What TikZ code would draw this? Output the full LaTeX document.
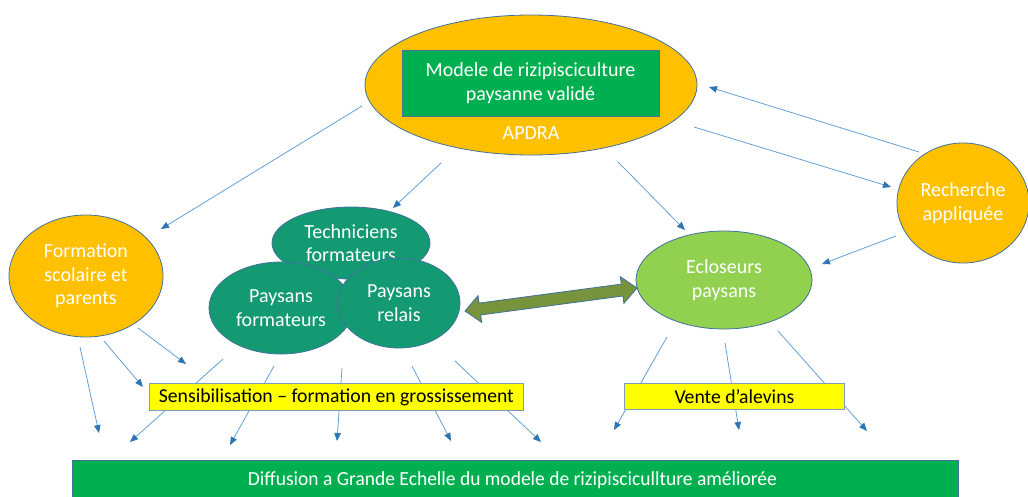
\documentclass[tikz,border=0pt]{standalone}
\usepackage{fontspec}
\setmainfont{Carlito}
\usetikzlibrary{shapes.geometric,arrows.meta}
\definecolor{orangeF}{HTML}{FFC000}
\definecolor{greenF}{HTML}{00B050}
\definecolor{tealF}{HTML}{139A72}
\definecolor{limeF}{HTML}{92D050}
\definecolor{oliveF}{HTML}{77933C}
\definecolor{yellowF}{HTML}{FFFF00}
\definecolor{edgeC}{HTML}{41719C}
\definecolor{arrowC}{HTML}{5B9BD5}
\definecolor{headC}{HTML}{2E75B6}
\tikzset{
  txt/.style={font=\fontsize{20}{23.5}\selectfont, text=white, align=center},
  oval/.style={ellipse, draw=edgeC, line width=0.8pt, inner sep=0pt, txt},
  ybox/.style={draw=edgeC!70, line width=0.8pt, fill=yellowF, inner sep=0pt, anchor=north west,
    font=\fontsize{19.7}{23.5}\selectfont, text=black},
  flow/.style={draw=arrowC, line width=0.75pt, -{Triangle[length=8pt,width=6.5pt,color=headC]}},
}
\begin{document}
\begin{tikzpicture}[x=1pt,y=-1pt]
\useasboundingbox (0,0) rectangle (1028,496);
% ---- arrow end points
\coordinate (a1s) at (362,106); \coordinate (a1e) at (161,229);
\coordinate (a2s) at (441,163); \coordinate (a2e) at (393,208);
\coordinate (a3s) at (618,162); \coordinate (a3e) at (685,230);
\coordinate (a4s) at (694,127); \coordinate (a4e) at (891,187);
\coordinate (a5s) at (919,152); \coordinate (a5e) at (709,87);
\coordinate (a6s) at (896,236); \coordinate (a6e) at (822,264);
\coordinate (a7s) at (80,347);  \coordinate (a7e) at (99,433);
\coordinate (a8s) at (104,341); \coordinate (a8e) at (143,387);
\coordinate (a9s) at (138,328); \coordinate (a9e) at (186,364);
\coordinate (b1s) at (223,359); \coordinate (b1e) at (130,442);
\coordinate (b2s) at (274,366); \coordinate (b2e) at (230,445);
\coordinate (b3s) at (342,368); \coordinate (b3e) at (337,441);
\coordinate (b4s) at (412,366); \coordinate (b4e) at (451,441);
\coordinate (b5s) at (455,361); \coordinate (b5e) at (541,442);
\coordinate (c1s) at (667,337); \coordinate (c1e) at (614,430);
\coordinate (c2s) at (725,343); \coordinate (c2e) at (739,430);
\coordinate (c3s) at (778,331); \coordinate (c3e) at (867,431);
\foreach \a in {a1,a2,a3,a4,a5,a6,a7,a8,a9,b1,b2,b3,b4,b5,c1,c2,c3}
  \draw[flow] (\a s) -- (\a e);
% ---- APDRA
\node[oval, fill=orangeF, minimum width=332pt, minimum height=140pt] (apdra) at (531,85) {};
\node[draw=edgeC, line width=0.8pt, fill=greenF, minimum width=257pt, minimum height=66pt, inner sep=0pt, txt]
  (modele) at (530.5,83) {Modele de rizipisciculture\\paysanne validé};
\node[txt] (apdralbl) at (531,133) {APDRA};
% ---- Recherche
\node[oval, fill=orangeF, minimum width=132pt, minimum height=120pt] (rech) at (963,203) {Recherche\\appliquée};
% ---- Formation
\node[oval, fill=orangeF, minimum width=154pt, minimum height=122pt] (form) at (86,276) {Formation\\scolaire et\\parents};
% ---- green cluster
\node[oval, fill=tealF, minimum width=158pt, minimum height=72pt] (tech) at (351,243) {Techniciens\\formateurs};
\node[oval, fill=tealF, minimum width=144pt, minimum height=92pt] (pform) at (281,308) {Paysans\\formateurs};
\node[oval, fill=tealF, minimum width=122pt, minimum height=90pt] (prel) at (399,303) {Paysans\\relais};
% ---- Ecloseurs
\node[oval, fill=limeF, minimum width=176pt, minimum height=98pt] (eclo) at (724,280) {Ecloseurs\\paysans};
% ---- double arrow
\coordinate (dA) at (465,311);
\coordinate (dB) at (637,288);
\begin{scope}[shift={(dA)}, rotate=7.6]
  \fill[oliveF, draw=edgeC, line width=0.8pt]
    (0,0) -- (15,-13.5) -- (15,-6) -- (158.5,-6) -- (158.5,-13.5) -- (173.5,0)
    -- (158.5,13.5) -- (158.5,6) -- (15,6) -- (15,13.5) -- cycle;
\end{scope}
% ---- yellow boxes
\node[ybox, minimum width=374pt, minimum height=27pt] (sens) at (149,383)
  {Sensibilisation – formation en grossissement};
\node[ybox, minimum width=220pt, minimum height=26pt] (vente) at (624,383)
  {Vente d’alevins};
% ---- bottom box
\node[draw=edgeC, line width=0.8pt, fill=greenF, minimum width=886pt, minimum height=40pt,
  inner sep=0pt, anchor=north west] (diff) at (72,460) {};
\node[txt] (difflbl) at (512.5,480.5)
  {\resizebox{529pt}{\height}{Diffusion a Grande Echelle du modele de rizipiscicullture améliorée}};
\end{tikzpicture}
\end{document}
